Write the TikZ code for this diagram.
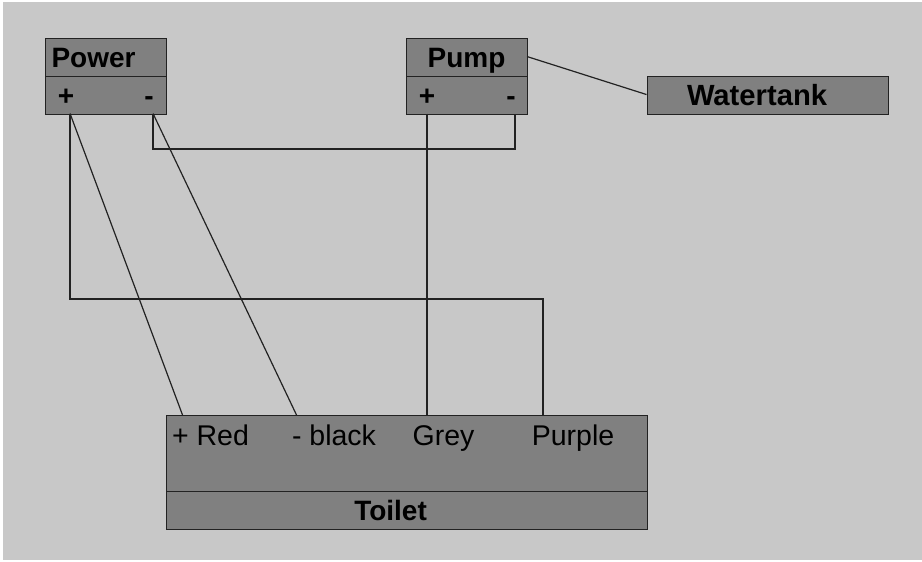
\documentclass[tikz,border=0pt]{standalone}
\usepackage{fontspec}
\setmainfont{Liberation Sans}
\tikzset{
  box/.style={draw=linecol,fill=boxfill,line width=1.4pt,inner sep=0pt,minimum height=#1,anchor=north west},
  wire/.style={draw=linecol,line width=1.2pt},
  txt/.style={inner sep=0pt,text=black,font=\fontsize{28.5}{30}\selectfont,anchor=base},
  btxt/.style={inner sep=0pt,text=black,font=\fontsize{28}{30}\selectfont\bfseries,anchor=base}
}
\definecolor{boxfill}{HTML}{808080}
\definecolor{linecol}{HTML}{222222}
\definecolor{bg}{HTML}{C8C8C8}
\begin{document}
\begin{tikzpicture}[x=1pt,y=-1pt]
\useasboundingbox (0,0) rectangle (922,562);
\fill[white] (0,0) rectangle (922,562);
\fill[bg] (3,2) rectangle (922,559.5);
\begin{scope}[shift={(-0.45,-0.45)}]
% boxes
\node[box=37.5pt,minimum width=120.5pt] (powertitle) at (45.5,38.5) {};
\node[box=38pt,minimum width=120.5pt] (powerports) at (45.5,76) {};
\node[box=37.5pt,minimum width=120.5pt] (pumptitle) at (406.5,38.5) {};
\node[box=38pt,minimum width=120.5pt] (pumpports) at (406.5,76) {};
\node[box=38pt,minimum width=241pt] (watertank) at (647,76) {};
\node[box=75.5pt,minimum width=481pt] (toiletports) at (166,415.5) {};
\node[box=38pt,minimum width=481pt] (toilettitle) at (166,491) {};
% labels
\node[btxt] (powerlabel) at (94,68) {Power};
\node[btxt] (pumplabel) at (467,68) {Pump};
\node[btxt,font=\fontsize{29.2}{30}\selectfont\bfseries] (tanklabel) at (757.5,106) {Watertank};
\node[btxt] (toiletlabel) at (391,520.5) {Toilet};
\node[btxt] (powerplus) at (66.5,106) {+};
\node[btxt] (powerminus) at (149.5,106) {-};
\node[btxt] (pumpplus) at (427.5,106) {+};
\node[btxt] (pumpminus) at (511.5,106) {-};
\node[txt] (redlabel) at (211,446) {+ Red};
\node[txt] (blacklabel) at (334.5,446) {- black};
\node[txt] (greylabel) at (444,446) {Grey};
\node[txt] (purplelabel) at (573.5,446) {Purple};
% pins
\coordinate (pwrP) at (70.5,114);
\coordinate (pwrM) at (153.5,114);
\coordinate (pmpP) at (427.5,114);
\coordinate (pmpM) at (515.5,114);
\coordinate (pmpR) at (527.5,57);
\coordinate (tankL) at (647,95);
\coordinate (tRed) at (183,415.5);
\coordinate (tBlack) at (297,415.5);
\coordinate (tGrey) at (427.5,415.5);
\coordinate (tPurple) at (543.5,415.5);
% connectors
\draw[wire] (pwrP) -- (tRed);
\draw[wire] (pwrM) -- (tBlack);
\draw[wire] (pmpP) -- (tGrey);
\draw[wire] (pwrM) -- ++(0,35.5) -| (pmpM);
\draw[wire] (pwrP) -- ++(0,185.5) -| (tPurple);
\draw[wire] (pmpR) -- (tankL);
\end{scope}
\end{tikzpicture}
\end{document}
